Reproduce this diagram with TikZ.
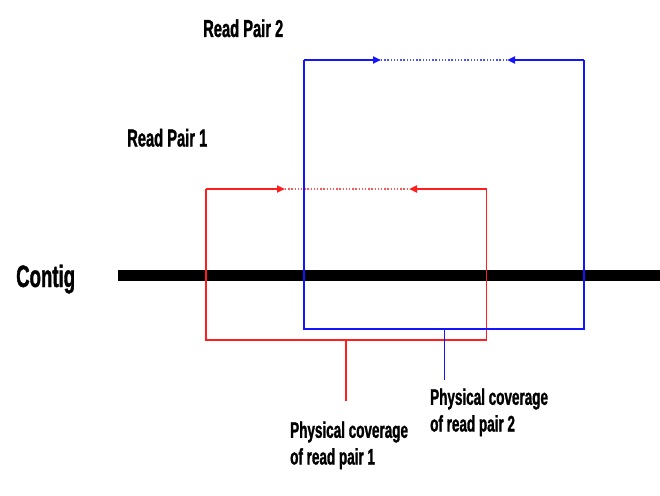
\documentclass[tikz,border=0pt]{standalone}
\usepackage{fontspec}
\setmainfont[FakeStretch=0.6,BoldFont={Liberation Sans Bold},BoldFeatures={FakeBold=1.2}]{Liberation Sans}
\usetikzlibrary{arrows.meta}
\definecolor{rpred}{RGB}{255,30,30}
\definecolor{rpblue}{RGB}{20,20,255}
\tikzset{
  lbl/.style={anchor=base west, inner sep=0pt, font=\bfseries},
  side/.style={line width=1.5pt},
  topseg/.style={line width=2.2pt, -{Triangle[length=8pt,width=7pt]}},
  gap/.style={line width=1.8pt, dash pattern=on 1.4pt off 1.8pt},
}
\begin{document}
\begin{tikzpicture}[x=1pt,y=-1pt]
\useasboundingbox (0,0) rectangle (660,495);
% contig
\coordinate (cA) at (118,275);
\coordinate (cB) at (660,275);
\draw[line width=11pt] (cA) -- (cB);
\node[lbl, font=\bfseries\fontsize{31}{33}\selectfont] (contig) at (16,287) {Contig};
% read pair 1 (red)
\coordinate (r1tl) at (206,189);
\coordinate (r1tr) at (486.5,189);
\coordinate (r1bl) at (206,340);
\coordinate (r1br) at (486.5,340);
\coordinate (r1a) at (285,189);
\coordinate (r1b) at (409,189);
\coordinate (r1s) at (346,340);
\coordinate (r1e) at (346,401);
\draw[side, rpred] (r1tl) -- (r1bl) -- (r1br) -- (r1tr);
\draw[topseg, rpred] (r1tl) -- (r1a);
\draw[topseg, rpred] (r1tr) -- (r1b);
\draw[gap, rpred!75] (r1a) -- (r1b);
\draw[side, rpred] (r1s) -- (r1e);
% read pair 2 (blue)
\coordinate (r2tl) at (304,60);
\coordinate (r2tr) at (584,60);
\coordinate (r2bl) at (304,329);
\coordinate (r2br) at (584,329);
\coordinate (r2a) at (381,60);
\coordinate (r2b) at (507,60);
\coordinate (r2s) at (444.5,329);
\coordinate (r2e) at (444.5,380);
\draw[side, rpblue] (r2tl) -- (r2bl) -- (r2br) -- (r2tr);
\draw[topseg, rpblue] (r2tl) -- (r2a);
\draw[topseg, rpblue] (r2tr) -- (r2b);
\draw[gap, rpblue!75] (r2a) -- (r2b);
\draw[side, rpblue] (r2s) -- (r2e);
% labels
\node[lbl, font=\bfseries\fontsize{24.5}{26}\selectfont] (rp2) at (203,37) {Read Pair 2};
\node[lbl, font=\bfseries\fontsize{24.5}{26}\selectfont] (rp1) at (127,146.5) {Read Pair 1};
\node[lbl, font=\bfseries\fontsize{22.5}{26.7}\selectfont, align=left] (pc2) at (430,431.5) {Physical coverage\\of read pair 2};
\node[lbl, font=\bfseries\fontsize{22.5}{26.7}\selectfont, align=left] (pc1) at (290,464.5) {Physical coverage\\of read pair 1};
\end{tikzpicture}
\end{document}
